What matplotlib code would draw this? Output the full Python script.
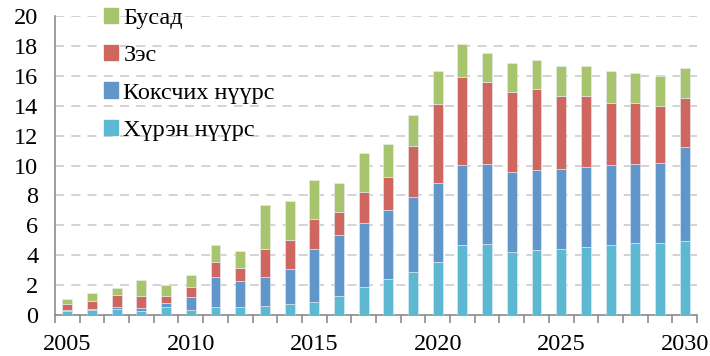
import matplotlib.pyplot as plt
import numpy as np
from matplotlib.patches import Patch

plt.rcParams['font.family'] = ['Liberation Serif', 'DejaVu Serif']

years = list(range(2005, 2031))
# сая тонн, төрлөөр
hureh = [0.30, 0.33, 0.40, 0.29, 0.53, 0.33, 0.53, 0.56, 0.60, 0.71, 0.87, 1.29, 1.87,
         2.41, 2.85, 3.55, 4.66, 4.73, 4.19, 4.33, 4.41, 4.55, 4.66, 4.79, 4.84, 4.95]
koks = [0.05, 0.05, 0.13, 0.18, 0.29, 0.85, 2.01, 1.69, 1.94, 2.34, 3.57, 4.04, 4.31,
        4.59, 5.07, 5.26, 5.37, 5.35, 5.38, 5.35, 5.38, 5.37, 5.37, 5.29, 5.35, 6.27]
zes = [0.36, 0.58, 0.81, 0.82, 0.47, 0.67, 1.01, 0.89, 1.90, 1.97, 1.96, 1.56, 2.07,
       2.25, 3.41, 5.30, 5.91, 5.53, 5.37, 5.41, 4.88, 4.71, 4.17, 4.12, 3.81, 3.31]
busad = [0.38, 0.53, 0.47, 1.03, 0.69, 0.83, 1.11, 1.16, 2.90, 2.61, 2.63, 1.92, 2.59,
         2.19, 2.03, 2.21, 2.16, 1.89, 1.92, 1.94, 2.01, 2.05, 2.12, 2.01, 1.99, 1.97]

colors = ['#5CB9D1', '#6196CA', '#CF6660', '#A8C46C']
labels = ['Хүрэн нүүрс', 'Коксчих нүүрс', 'Зэс', 'Бусад']

fig = plt.figure(figsize=(7.1, 3.56), dpi=100)
ax = fig.add_axes([55 / 710, 41 / 356, 642 / 710, 299 / 356])

x = np.arange(len(years))
bottom = np.zeros(len(years))
for vals, c in zip([hureh, koks, zes, busad], colors):
    ax.bar(x, vals, width=0.4, bottom=bottom, color=c, edgecolor='#E8EEF4',
           linewidth=0.4, zorder=3)
    bottom += np.array(vals)

ax.set_xlim(-0.5, len(years) - 0.5)
ax.set_ylim(0, 20)
ax.set_yticks(range(0, 21, 2))
ax.yaxis.grid(True, linestyle=(0, (5, 4)), color='#D0D0D0', linewidth=1.3, zorder=0)
ax.set_xticks(x[::5])
ax.set_xticklabels([str(y) for y in years[::5]])
ax.set_xticks(np.arange(-0.5, len(years), 1), minor=True)
ax.tick_params(axis='x', which='major', length=0, pad=14, labelsize=17.5)
ax.tick_params(axis='x', which='minor', length=6, width=1.2, color='#8C8C8C')
ax.tick_params(axis='y', length=0, pad=12, labelsize=17.5)

for s in ['top', 'right']:
    ax.spines[s].set_visible(False)
for s in ['left', 'bottom']:
    ax.spines[s].set_color('#8C8C8C')
    ax.spines[s].set_linewidth(1.2)

handles = [Patch(color=c) for c in colors][::-1]
ax.legend(handles, labels[::-1], loc='upper left', bbox_to_anchor=(82 / 710, 1.04),
          bbox_transform=fig.transFigure, frameon=False, fontsize=17.5,
          handlelength=0.6, handleheight=0.6, handletextpad=0.2, labelspacing=0.66)

plt.savefig('out.png', dpi=100)
plt.close()
